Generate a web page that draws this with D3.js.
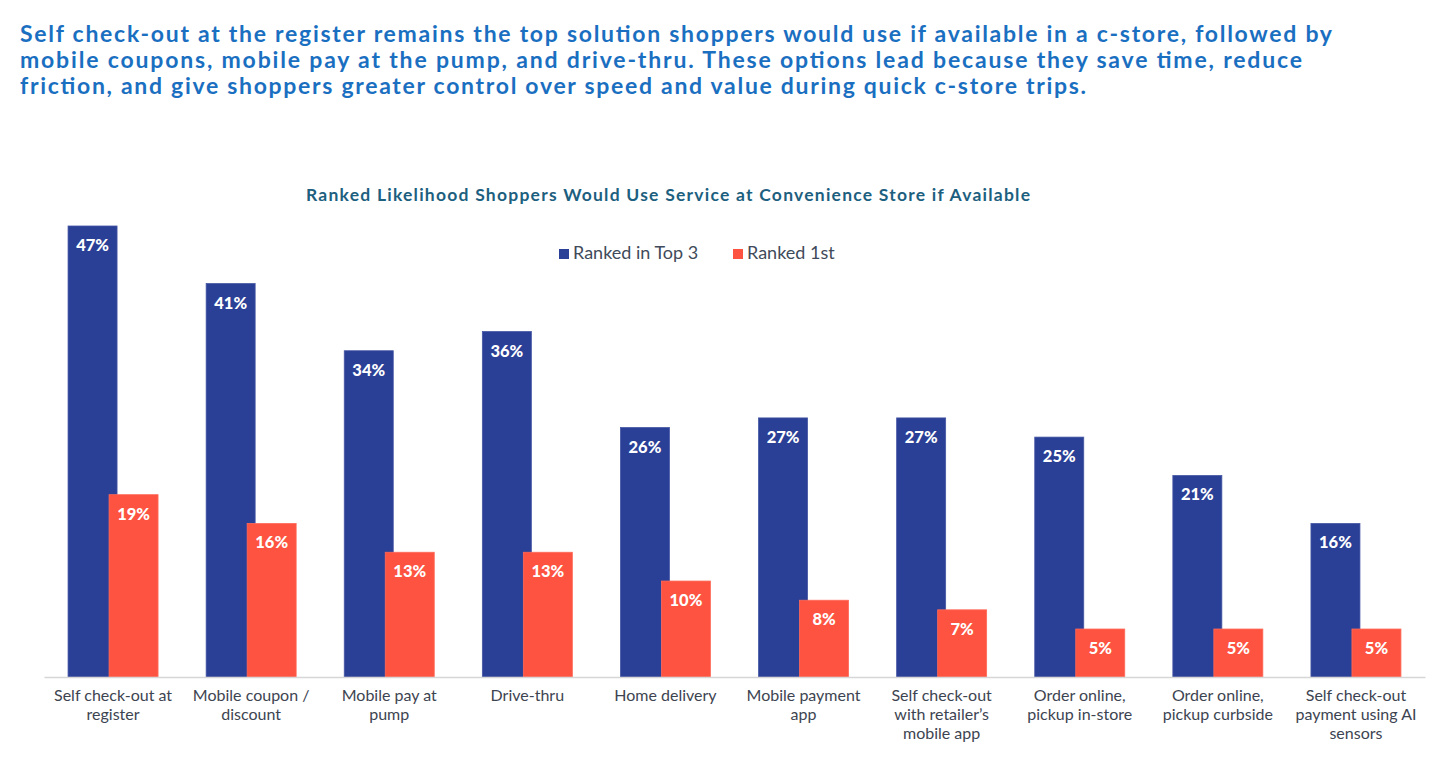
<!DOCTYPE html>
<html>
<head>
<meta charset="utf-8">
<script src="https://cdn.jsdelivr.net/npm/d3@7"></script>
<style>
  body { margin: 0; background: #fff; }
  svg { display: block; font-family: Lato, "Open Sans", sans-serif; }
</style>
</head>
<body>
<svg id="chart" width="1440" height="762"></svg>
<script>
// chart data
var categories = [
    ["Self check-out at", "register"],
    ["Mobile coupon /", "discount"],
    ["Mobile pay at", "pump"],
    ["Drive-thru"],
    ["Home delivery"],
    ["Mobile payment", "app"],
    ["Self check-out", "with retailer\u2019s", "mobile app"],
    ["Order online,", "pickup in-store"],
    ["Order online,", "pickup curbside"],
    ["Self check-out", "payment using AI", "sensors"]
];
var top3 = [47, 41, 34, 36, 26, 27, 27, 25, 21, 16];
var first = [19, 16, 13, 13, 10, 8, 7, 5, 5, 5];
var seriesNames = ["Ranked in Top 3", "Ranked 1st"];

var headline = [
    "Self check-out at the register remains the top solution shoppers would use if available in a c-store, followed by",
    "mobile coupons, mobile pay at the pump, and drive-thru. These options lead because they save time, reduce",
    "friction, and give shoppers greater control over speed and value during quick c-store trips."
];
var chartTitle = "Ranked Likelihood Shoppers Would Use Service at Convenience Store if Available";

var blue = "#2a3f96";
var red = "#fd5340";

var svg = d3.select("#chart");

// headline, each line stretched to the width it has in the slide
var headWidths = [1312, 1282, 1066];
svg.append("g").selectAll("text")
    .data(headline)
    .enter().append("text")
    .attr("x", 20)
    .attr("y", function(d, i){ return 42 + i * 26; })
    .attr("fill", "#1a6fc1")
    .attr("font-weight", 700)
    .attr("font-size", 23)
    .attr("textLength", function(d, i){ return headWidths[i]; })
    .attr("lengthAdjust", "spacing")
    .text(function(d){ return d; });

// chart title
svg.append("text")
    .attr("x", 668)
    .attr("y", 201)
    .attr("text-anchor", "middle")
    .attr("fill", "#1d5f7f")
    .attr("font-weight", 700)
    .attr("font-size", 17.5)
    .attr("textLength", 724)
    .attr("lengthAdjust", "spacing")
    .text(chartTitle);

// scales
var x = d3.scaleBand()
    .domain(d3.range(categories.length))
    .range([44, 1425])
    .padding(0);
var y = d3.scaleLinear()
    .domain([0, 47])
    .range([677, 226]);

var barW = 49;
var redShift = 41;

var groups = svg.selectAll("g.cat")
    .data(categories)
    .enter().append("g")
    .attr("class", "cat")
    .attr("transform", function(d, i){
        return "translate(" + (x(i) + x.bandwidth() / 2 - 45) + ",0)";
    });

// blue bars
groups.append("rect")
    .attr("x", 0)
    .attr("y", function(d, i){ return y(top3[i]); })
    .attr("width", barW)
    .attr("height", function(d, i){ return y(0) - y(top3[i]); })
    .attr("fill", blue)
    .attr("stroke", "#4556a4")
    .attr("stroke-width", 0.8);
groups.append("text")
    .attr("x", barW / 2)
    .attr("y", function(d, i){ return y(top3[i]) + 25; })
    .attr("text-anchor", "middle")
    .attr("fill", "#fff")
    .attr("font-weight", 900)
    .attr("font-size", 16.5)
    .text(function(d, i){ return top3[i] + "%"; });

// red bars
groups.append("rect")
    .attr("x", redShift)
    .attr("y", function(d, i){ return y(first[i]); })
    .attr("width", barW)
    .attr("height", function(d, i){ return y(0) - y(first[i]); })
    .attr("fill", red)
    .attr("stroke", "#ff6a59")
    .attr("stroke-width", 0.8);
groups.append("text")
    .attr("x", redShift + barW / 2)
    .attr("y", function(d, i){ return y(first[i]) + 25; })
    .attr("text-anchor", "middle")
    .attr("fill", "#fff")
    .attr("font-weight", 900)
    .attr("font-size", 16.5)
    .text(function(d, i){ return first[i] + "%"; });

// axis
var axis = svg.append("g")
    .attr("transform", "translate(0," + y(0) + ")")
    .call(d3.axisBottom(x).tickSize(0).tickFormat(""));
axis.select(".domain").attr("stroke", "#d6d6d6").attr("stroke-width", 1.5);

// category labels
var labels = svg.selectAll("text.cat-label")
    .data(categories)
    .enter().append("text")
    .attr("class", "cat-label")
    .attr("text-anchor", "middle")
    .attr("fill", "#3d4451")
    .attr("font-size", 16);
labels.selectAll("tspan")
    .data(function(d, i){ return d.map(function(t){ return {t: t, i: i}; }); })
    .enter().append("tspan")
    .attr("x", function(d){ return x(d.i) + x.bandwidth() / 2; })
    .attr("y", function(d, j){ return 701 + j * 19; })
    .text(function(d){ return d.t; });

// legend
var legend = svg.append("g");
var legendX = [559, 733];
var legendColors = [blue, red];
seriesNames.forEach(function(name, i){
    legend.append("rect")
        .attr("x", legendX[i])
        .attr("y", 249)
        .attr("width", 10)
        .attr("height", 10)
        .attr("fill", legendColors[i]);
    legend.append("text")
        .attr("x", legendX[i] + 14)
        .attr("y", 259)
        .attr("fill", "#404a5a")
        .attr("font-size", 18)
        .text(name);
});
</script>
</body>
</html>
